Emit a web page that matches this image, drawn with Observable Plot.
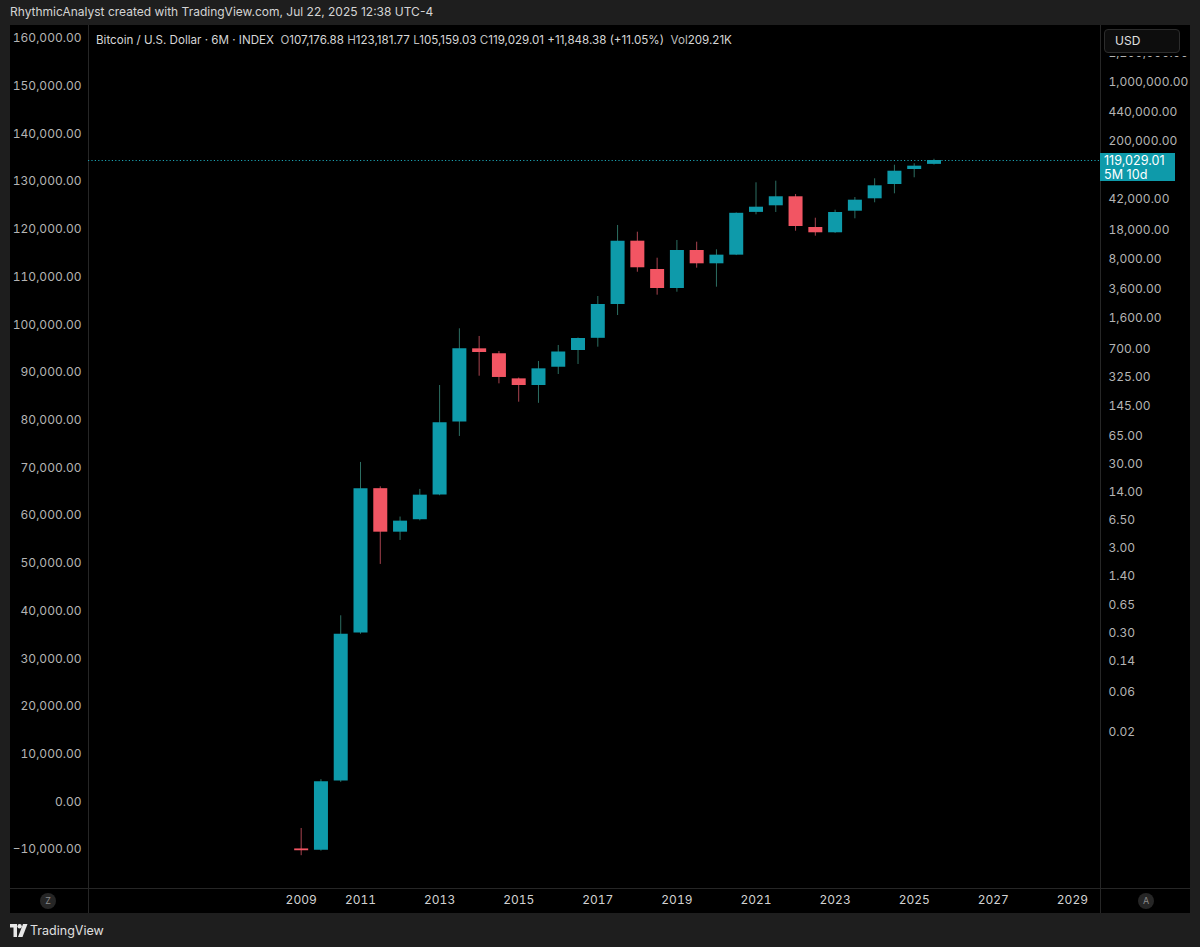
<!DOCTYPE html>
<html><head><meta charset="utf-8">
<script src="https://cdn.jsdelivr.net/npm/d3@7"></script>
<script src="https://cdn.jsdelivr.net/npm/@observablehq/plot@0.6"></script>
<style>
html,body{margin:0;padding:0;background:#1e1e1e;}
#root{position:relative;width:1200px;height:947px;background:#1e1e1e;font-family:Inter,"Noto Sans",sans-serif;overflow:hidden;}
.abs{position:absolute;}
.topbar{left:10px;top:4px;font-size:12px;color:#d4d4d4;white-space:nowrap;}
.panel{left:10px;top:25px;width:1180px;height:888px;background:#000;}
.vline{width:1px;background:#262626;}
.hline{height:1px;background:#262626;}
.legend{left:96px;top:33px;font-size:11.6px;color:#d6d6d6;white-space:nowrap;}
.legend .k{color:#bdbdbd;}
.cover{left:1101px;top:26px;width:88px;height:30px;background:#000;}
.usd{left:1104px;top:29px;width:76px;height:24px;border:1px solid #2c2c2c;border-radius:4px;background:#0d0d0d;color:#e0e0e0;font-size:12px;line-height:22px;padding-left:10px;box-sizing:border-box;}
.tag{left:1100px;width:75px;height:28px;background:#0e9aaa;color:#fff;font-size:12.6px;line-height:13.5px;padding:1px 0 0 4px;box-sizing:border-box;}
.circ{width:16px;height:16px;border-radius:8px;background:#262626;color:#8a8a8a;font-size:9px;line-height:16px;text-align:center;}
.foot{left:30px;top:923px;font-size:12.5px;color:#e0e0e0;}
svg{overflow:visible;}
</style></head>
<body>
<div id="root">
  <div class="abs topbar">RhythmicAnalyst created with TradingView.com, Jul 22, 2025 12:38 UTC-4</div>
  <div class="abs panel"></div>
  <div class="abs vline" style="left:88px;top:25px;height:888px"></div>
  <div class="abs vline" style="left:1100px;top:25px;height:888px"></div>
  <div class="abs hline" style="left:10px;top:888px;width:1180px"></div>
  <div id="leftaxis" class="abs" style="left:10px;top:25px"></div>
  <div id="main" class="abs" style="left:10px;top:25px"></div>
  <div class="abs legend">Bitcoin / U.S. Dollar · 6M · INDEX&nbsp;&nbsp;<span class="k">O</span>107,176.88 <span class="k">H</span>123,181.77 <span class="k">L</span>105,159.03 <span class="k">C</span>119,029.01 +11,848.38 (+11.05%)&nbsp; <span class="k">Vol</span>209.21K</div>
  <div class="abs cover"></div>
  <div class="abs usd">USD</div>
  <div id="tag" class="abs tag"></div>
  <div class="abs circ" style="left:40px;top:893px">Z</div>
  <div class="abs circ" style="left:1138px;top:893px">A</div>
  <svg class="abs" style="left:10px;top:924px" width="18" height="13" viewBox="0 0 18 13">
    <path d="M0 0h7v13H3.5V3.5H0z" fill="#e8e8e8"/><circle cx="9.6" cy="2.2" r="2.2" fill="#e8e8e8"/><path d="M13 0h4.5l-5 13H8z" fill="#e8e8e8"/>
  </svg>
  <div class="abs foot">TradingView</div>
</div>
<script>
// ---- data (6-month candles, Bitcoin / U.S. Dollar INDEX) ----
const periods = ["2009-07","2010-01","2010-07","2011-01","2011-07","2012-01","2012-07","2013-01","2013-07","2014-01","2014-07","2015-01","2015-07","2016-01","2016-07","2017-01","2017-07","2018-01","2018-07","2019-01","2019-07","2020-01","2020-07","2021-01","2021-07","2022-01","2022-07","2023-01","2023-07","2024-01","2024-07","2025-01","2025-07"];
const opens  = [0.00083,0.00080,0.0053,0.30,15.4,4.7,6.6,13.0,95,699,611,308,257,423,668,931,2340,13180,6086,3623,10220,7110,9000,28900,34600,44250,19150,16570,29860,41880,61870,93100,107176.88];
const highs  = [0.00145,0.0055,0.48,31.5,16.2,7.1,15.1,257,1207,979,650,315,495,766,940,2913,20230,16840,8280,13430,12820,10420,28500,64830,67700,47100,24660,30690,43370,72300,104700,108900,123181.77];
const lows   = [0.00069,0.00078,0.0051,0.29,1.95,3.75,6.4,12.7,64,331,269,163,158,347,456,731,1735,5650,3020,3275,6310,3756,8900,27070,28840,17300,15100,16300,24270,37560,47990,74300,105159.03];
const closes = [0.00079,0.0052,0.29,15.4,4.7,6.35,12.9,93,699,632,320,257,405,641,927,2344,13180,6380,3623,10220,7110,9000,28200,33310,44250,19670,16570,28840,40330,59700,88920,102000,119029.01];

const yearTicks = [2009.5,2011,2013,2015,2017,2019,2021,2023,2025,2027,2029];
const rightTicks = [2200000,1000000,440000,200000,42000,18000,8000,3600,1600,700,325,145,65,30,14,6.5,3,1.4,0.65,0.3,0.14,0.06,0.02];
const leftTicks = [160000,150000,140000,130000,120000,110000,100000,90000,80000,70000,60000,50000,40000,30000,20000,10000,0,-10000];
const lastClose = closes[closes.length-1];

// ---- layout / style ----
const W = 1180, H = 888, ML = 78, MR = 90, MB = 25;
const PLOT_H = H - MB;            // 863
const TEAL = "#0e9aaa", RED = "#f25563", UPWICK = "#2c6e62", DNWICK = "#a8434f";
const FONT = "Inter, 'Noto Sans', sans-serif";

const toYear = p => { const [y,m] = p.split("-").map(Number); return y + (m-1)/12; };
const candles = periods.map((p,i) => ({t: toYear(p), open: opens[i], high: highs[i], low: lows[i], close: closes[i]}));
const ups = candles.filter(d => d.close >= d.open);
const downs = candles.filter(d => d.close < d.open);

// x: 39.55 px per year, 2011 at page x 360 (svg x 350)
const PXY = 39.55;
const xDomain = [2011 - (350-ML)/PXY, 2011 + (W-MR-350)/PXY];
// y (log): 84.4 px per decade, 1,000,000 at svg y 57
const PXD = 84.4;
const yDomain = [Math.pow(10, 6 - (PLOT_H-57)/PXD), Math.pow(10, 6 + 57/PXD)];

const main = Plot.plot({
  width: W, height: H,
  marginLeft: ML, marginRight: MR, marginTop: 0, marginBottom: MB,
  style: {background: "transparent", color: "#b4b4b4", fontSize: "12px", fontFamily: FONT},
  x: {type: "linear", domain: xDomain},
  y: {type: "log", domain: yDomain},
  marks: [
    Plot.ruleY([lastClose], {stroke: "#1ba3b3", strokeDasharray: "1.2,2.2", strokeWidth: 1}),
    Plot.ruleX(ups, {x: "t", y1: "low", y2: "high", stroke: UPWICK, strokeWidth: 1}),
    Plot.ruleX(downs, {x: "t", y1: "low", y2: "high", stroke: DNWICK, strokeWidth: 1}),
    Plot.ruleX(ups, {x: "t", y1: "open", y2: "close", stroke: TEAL, strokeWidth: 14}),
    Plot.ruleX(downs, {x: "t", y1: "open", y2: "close", stroke: RED, strokeWidth: 14}),
    Plot.axisX({anchor: "bottom", ticks: yearTicks, tickFormat: d => String(Math.floor(d)), tickSize: 0, tickPadding: 7, fill: "#d2d2d2", label: null}),
    Plot.axisY({anchor: "right", ticks: rightTicks, tickFormat: d3.format(",.2f"), tickSize: 0, tickPadding: 8, label: null})
  ]
});
document.getElementById("main").appendChild(main);

// left (linear) price axis: 160,000 at svg y 13, -10,000 at svg y 824
const PX10K = (824-13)/17;
const lDomain = [-10000 - (PLOT_H-824)*10000/PX10K, 160000 + 13*10000/PX10K];
const left = Plot.plot({
  width: W, height: H,
  marginLeft: ML, marginRight: MR, marginTop: 0, marginBottom: MB,
  style: {background: "transparent", color: "#b4b4b4", fontSize: "12px", fontFamily: FONT},
  y: {type: "linear", domain: lDomain},
  marks: [
    Plot.axisY({anchor: "left", ticks: leftTicks, tickFormat: d3.format(",.2f"), tickSize: 0, tickPadding: 7, label: null})
  ]
});
document.getElementById("leftaxis").appendChild(left);

// price tag placed with the main y scale
const yS = main.scale("y");
const tag = document.getElementById("tag");
tag.style.top = (25 + yS.apply(lastClose) - 7) + "px";
tag.innerHTML = d3.format(",.2f")(lastClose) + "<br>5M 10d";
</script>
</body></html>
